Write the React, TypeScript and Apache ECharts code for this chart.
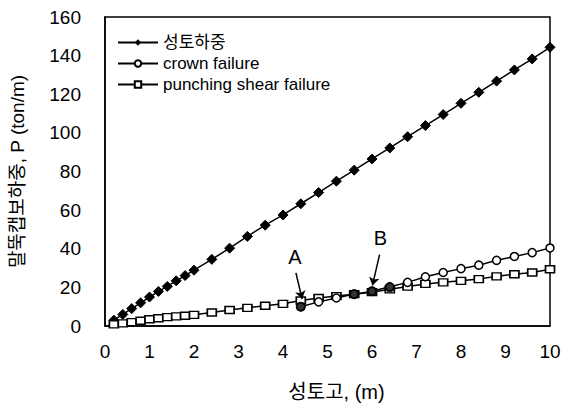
import React, { useEffect, useRef } from "react";
import * as echarts from "echarts";

const fillHeights = [0.2, 0.4, 0.6, 0.8, 1.0, 1.2, 1.4, 1.6, 1.8, 2.0, 2.4, 2.8, 3.2, 3.6, 4.0, 4.4, 4.8, 5.2, 5.6, 6.0, 6.4, 6.8, 7.2, 7.6, 8.0, 8.4, 8.8, 9.2, 9.6, 10.0];
const fillLoad = [3, 6, 9, 12, 15, 17.9, 20.5, 23.4, 26.1, 28.9, 34.5, 40.3, 46.4, 52.2, 57.5, 63.3, 69.1, 75, 80.7, 86.5, 92.2, 98, 103.8, 109.5, 115.3, 121, 126.8, 132.6, 138.3, 144.3];

const crownHeights = [4.4, 4.8, 5.2, 5.6, 6.0, 6.4, 6.8, 7.2, 7.6, 8.0, 8.4, 8.8, 9.2, 9.6, 10.0];
const crownLoad = [10, 12.5, 14.5, 16.5, 18, 20.3, 22.6, 25.5, 27.7, 29.7, 31.5, 34, 36, 38, 40.4];

const punchHeights = [0.2, 0.4, 0.6, 0.8, 1.0, 1.2, 1.4, 1.6, 1.8, 2.0, 2.4, 2.8, 3.2, 3.6, 4.0, 4.4, 4.8, 5.2, 5.6, 6.0, 6.4, 6.8, 7.2, 7.6, 8.0, 8.4, 8.8, 9.2, 9.6, 10.0];
const punchLoad = [0.8, 1.4, 2.0, 2.7, 3.5, 4.0, 4.6, 5.0, 5.3, 5.8, 7.0, 8.3, 9.4, 10.5, 11.5, 13.2, 14.5, 15.5, 16.5, 17.5, 19, 20.4, 21.8, 22.6, 23.4, 24.3, 25.7, 26.8, 27.7, 29.4];

// overlapping points that appear as solid dots
const overlapHeights = [4.4, 5.6, 6.0, 6.4];
const overlapLoad = [10, 16.5, 18, 20];

const annotations = [
  { name: "A", label: [4.27, 35.5], from: [4.29, 27.5], to: [4.43, 14] },
  { name: "B", label: [6.19, 45.5], from: [6.17, 37], to: [6.01, 21] },
];

const legendNames = ["성토하중", "crown failure", "punching shear failure"];

const FONT = "'Liberation Sans', Arial, 'Noto Sans CJK KR', sans-serif";

export default function App() {
  const ref = useRef<HTMLDivElement>(null);
  useEffect(() => {
    if (!ref.current) return;
    const chart = echarts.init(ref.current, null, { renderer: "svg" });
    const pairs = (xs: number[], ys: number[]) => xs.map((x, i) => [x, ys[i]]);
    const lineStyle = { color: "#000", width: 1.5 };
    chart.setOption({
      animation: false,
      backgroundColor: "#fff",
      textStyle: { fontFamily: FONT, color: "#000" },
      grid: {
        left: 98,
        right: 15,
        top: 17,
        bottom: 74,
        show: true,
        borderColor: "#000",
        borderWidth: 1.5,
        backgroundColor: "transparent",
      },
      legend: {
        orient: "vertical",
        left: 112,
        top: 29,
        itemWidth: 40,
        itemHeight: 8,
        itemGap: 4,
        data: legendNames,
        textStyle: { fontSize: 17, color: "#000", fontFamily: FONT },
      },
      xAxis: {
        type: "value",
        min: 0,
        max: 10,
        interval: 1,
        name: "성토고, (m)",
        nameLocation: "middle",
        nameGap: 56,
        nameTextStyle: { fontSize: 20, color: "#000", fontFamily: FONT, padding: [0, 0, 0, 18] },
        axisLine: { show: true, lineStyle: { color: "#000", width: 1.5 } },
        axisTick: { show: false },
        splitLine: { show: false },
        axisLabel: {
          fontSize: 19,
          color: "#000",
          margin: 16,
          fontFamily: FONT,
        },
      },
      yAxis: {
        type: "value",
        min: 0,
        max: 160,
        interval: 20,
        name: "말뚝캡보하중, P (ton/m)",
        nameLocation: "middle",
        nameGap: 78,
        nameRotate: 90,
        nameTextStyle: { fontSize: 19, color: "#000", fontFamily: FONT },
        axisLine: { show: true, lineStyle: { color: "#000", width: 1.5 } },
        axisTick: { show: false },
        splitLine: { show: false },
        axisLabel: { fontSize: 19, color: "#000", margin: 24, fontFamily: FONT },
      },
      series: [
        {
          name: legendNames[0],
          type: "line",
          data: pairs(fillHeights, fillLoad),
          symbol: "diamond",
          symbolSize: 10,
          itemStyle: { color: "#000", borderColor: "#000" },
          lineStyle,
          z: 3,
        },
        {
          name: legendNames[1],
          type: "line",
          data: pairs(crownHeights, crownLoad),
          symbol: "circle",
          symbolSize: 8,
          itemStyle: { color: "#fff", borderColor: "#000", borderWidth: 1.5 },
          lineStyle,
          z: 4,
          markPoint: {
            symbol: "circle",
            symbolSize: 1,
            itemStyle: { color: "transparent" },
            label: { show: true, position: "inside", fontSize: 20, color: "#000", fontFamily: FONT },
            data: annotations.map((a) => ({ name: a.name, coord: a.label, value: a.name })),
          },
          markLine: {
            silent: true,
            symbol: ["none", "arrow"],
            symbolSize: 8,
            lineStyle: { color: "#000", width: 1.5, type: "solid" },
            label: { show: false },
            data: annotations.map((a) => [{ coord: a.from }, { coord: a.to }]),
          },
        },
        {
          name: legendNames[2],
          type: "line",
          data: pairs(punchHeights, punchLoad),
          symbol: "rect",
          symbolSize: [9, 7],
          itemStyle: { color: "#fff", borderColor: "#000", borderWidth: 1.5 },
          lineStyle,
          z: 3,
        },
        {
          name: "overlap",
          type: "scatter",
          data: pairs(overlapHeights, overlapLoad),
          symbol: "circle",
          symbolSize: 10,
          itemStyle: { color: "#000" },
          z: 5,
        },
      ],
    });
    return () => chart.dispose();
  }, []);
  return (
    <div
      ref={ref}
      style={{ position: "absolute", left: 0, top: 0, width: 565, height: 407 }}
    />
  );
}
